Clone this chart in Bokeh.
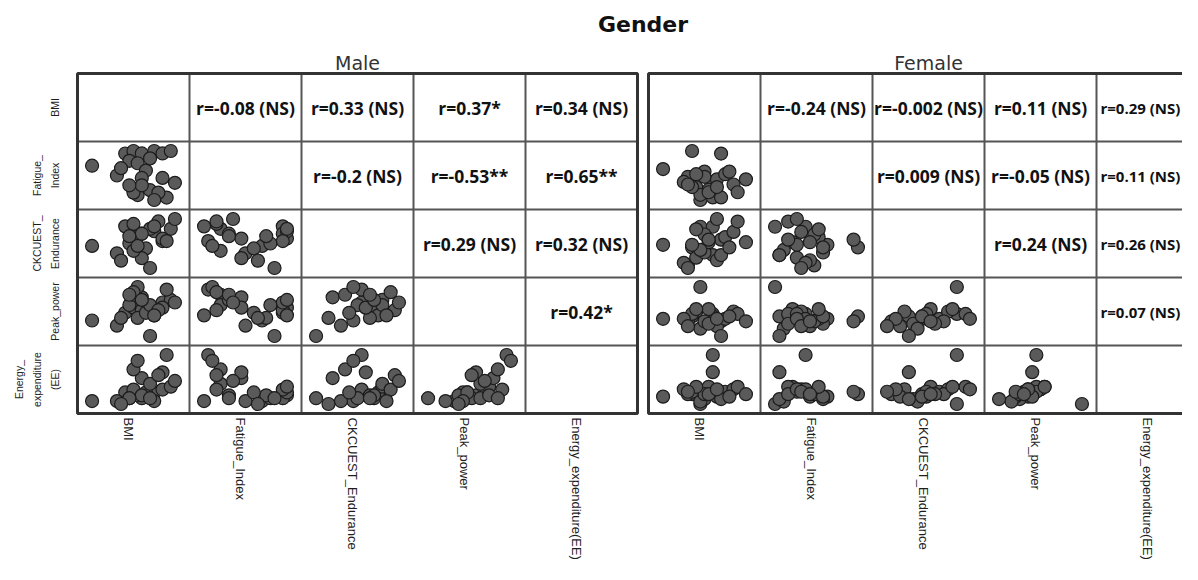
import numpy as np
from bokeh.plotting import figure
from bokeh.models import Range1d
from bokeh.core.properties import value
from bokeh.embed import file_html
from bokeh.resources import INLINE

# ---------------- data ----------------
title_text = "Gender"
genders = ["Male", "Female"]
variables = ["BMI", "Fatigue_Index", "CKCUEST_Endurance", "Peak_power", "Energy_expenditure(EE)"]
row_labels = ["BMI", "Fatigue_\nIndex", "CKCUEST_\nEndurance", "Peak_power", "Energy_\nexpenditure\n(EE)"]

# relative (within-cell) positions of each subject, 0 = low, 1 = high
male_bmi = [0.00, 0.40, 0.50, 0.60, 0.75, 0.85, 0.95, 0.45, 0.55, 0.30, 0.65, 0.60, 0.50,
            0.85, 0.90, 0.55, 0.70, 0.50, 0.60, 0.45, 0.80, 1.00, 0.75, 0.35, 0.70]
male_fat = [0.70, 0.95, 1.00, 0.95, 1.00, 0.95, 1.00, 0.80, 0.75, 0.50, 0.60, 0.45, 0.20,
            0.45, 0.05, 0.10, 0.20, 0.15, 0.30, 0.30, 0.15, 0.35, 0.00, 0.65, 0.85]
male_ck = [0.45, 0.85, 0.60, 0.70, 0.75, 0.55, 0.80, 0.50, 0.65, 0.30, 0.40, 0.20, 0.35,
           0.60, 0.55, 0.45, 0.80, 0.90, 0.70, 0.65, 0.95, 1.00, 0.85, 0.15, 0.00]
male_peak = [0.30, 0.45, 0.55, 0.50, 0.40, 0.65, 0.70, 0.60, 0.35, 0.20, 0.45, 0.75, 0.80,
             0.55, 0.90, 0.95, 0.60, 0.85, 0.70, 0.80, 0.50, 0.65, 0.40, 0.35, 0.00]
male_ee = [0.05, 0.20, 0.15, 0.10, 0.20, 0.25, 0.30, 0.10, 0.15, 0.05, 0.20, 0.45, 0.60,
           0.55, 0.85, 0.75, 0.35, 0.25, 0.15, 0.10, 0.50, 0.40, 0.05, 0.00, 0.10]

female_bmi = [0.00, 0.35, 0.70, 0.45, 0.60, 0.60, 0.30, 0.40, 0.50, 0.55, 0.65, 0.75, 0.85,
              0.90, 0.45, 0.50, 0.35, 0.25, 0.70, 0.80, 0.55, 0.40, 0.65, 0.30, 1.00]
female_fat = [0.65, 1.00, 0.95, 0.05, 0.40, 0.10, 0.50, 0.30, 0.60, 0.25, 0.45, 0.55, 0.35,
              0.20, 0.15, 0.50, 0.30, 0.40, 0.10, 0.60, 0.20, 0.55, 0.30, 0.35, 0.45]
female_ck = [0.50, 0.45, 0.60, 0.85, 0.85, 0.30, 0.10, 0.25, 0.35, 0.55, 0.20, 0.65, 0.75,
             0.95, 0.40, 0.70, 0.50, 0.15, 0.30, 0.45, 0.60, 0.80, 1.00, 0.05, 0.55]
female_peak = [0.35, 0.40, 0.30, 1.00, 0.45, 0.40, 0.30, 0.50, 0.25, 0.55, 0.20, 0.35, 0.50,
               0.45, 0.15, 0.30, 0.45, 0.35, 0.00, 0.40, 0.25, 0.55, 0.35, 0.20, 0.30]
female_ee = [0.15, 0.20, 0.25, 0.00, 1.00, 0.65, 0.20, 0.30, 0.10, 0.35, 0.15, 0.25, 0.30,
             0.35, 0.05, 0.20, 0.25, 0.30, 0.10, 0.15, 0.20, 0.35, 0.30, 0.25, 0.20]

# correlation labels of the upper triangle (row i, columns i+1..4)
male_r = [
    ["r=-0.08 (NS)", "r=0.33 (NS)", "r=0.37*", "r=0.34 (NS)"],
    ["r=-0.2 (NS)", "r=-0.53**", "r=0.65**"],
    ["r=0.29 (NS)", "r=0.32 (NS)"],
    ["r=0.42*"],
]
female_r = [
    ["r=-0.24 (NS)", "r=-0.002 (NS)", "r=0.11 (NS)", "r=0.29 (NS)"],
    ["r=0.009 (NS)", "r=-0.05 (NS)", "r=0.11 (NS)"],
    ["r=0.24 (NS)", "r=0.26 (NS)"],
    ["r=0.07 (NS)"],
]

# ---------------- layout ----------------
W, H = 1182, 564
CELL_W, CELL_H = 112.0, 68.0         # pixels per cell
ORG_X, ORG_Y = 77.0, 413.0           # pixel of male panel bottom-left
MARGIN = 0.0
N = len(variables)
PANEL_GAP = (648.0 - 77.0) / CELL_W  # female panel offset in cell units
PADX, PADY = 0.13, 0.14

x_start = (MARGIN - ORG_X) / CELL_W
x_end = (MARGIN + W - ORG_X) / CELL_W
y_top = (ORG_Y - MARGIN) / CELL_H
y_bot = (ORG_Y - MARGIN - H) / CELL_H

p = figure(width=W, height=H, output_backend="svg", toolbar_location=None,
           x_range=Range1d(x_start, x_end), y_range=Range1d(y_bot, y_top),
           x_axis_location=None, y_axis_location=None,
           min_border=0, min_border_left=0, min_border_right=0,
           min_border_top=0, min_border_bottom=0)
p.xgrid.visible = False
p.ygrid.visible = False
p.outline_line_color = None
p.background_fill_color = "white"
p.border_fill_color = "white"

NARROW = "Liberation Sans"

panels = [
    (0.0, [male_bmi, male_fat, male_ck, male_peak, male_ee], male_r),
    (PANEL_GAP, [female_bmi, female_fat, female_ck, female_peak, female_ee], female_r),
]

for gi, (off, series, rtab) in enumerate(panels):
    # inner grid lines
    vx = [off + k for k in range(1, N)]
    p.segment(x0=vx, y0=[0] * len(vx), x1=vx, y1=[N] * len(vx), line_color="#555555", line_width=2)
    hy = [k for k in range(1, N)]
    p.segment(x0=[off] * len(hy), y0=hy, x1=[off + N] * len(hy), y1=hy, line_color="#555555", line_width=2)
    # outer box
    p.quad(left=[off], right=[off + N], bottom=[0], top=[N], fill_color=None,
           line_color="#333333", line_width=3)

    # scatter cells (lower triangle)
    norm = []
    for s in series:
        a = np.asarray(s, dtype=float)
        norm.append((a - a.min()) / (a.max() - a.min()))
    xs, ys = [], []
    for i in range(N):
        for j in range(i):
            xs.extend(off + j + PADX + (1 - 2 * PADX) * norm[j])
            ys.extend((N - 1 - i) + PADY + (1 - 2 * PADY) * norm[i])
    p.scatter(x=xs, y=ys, marker="circle", size=13, fill_color="#5a5a5a",
              line_color="#1c1c1c", line_width=1.2)

    # correlation texts (upper triangle); the last female column sits at the page edge,
    # so those texts start at the cell's left side in a slightly smaller size
    tx, ty, tt = [], [], []
    ex, ey, et = [], [], []
    for i, row in enumerate(rtab):
        for k, txt in enumerate(row):
            j = i + 1 + k
            if gi == 1 and j == N - 1:
                ex.append(off + j + 0.035)
                ey.append(N - 1 - i + 0.5)
                et.append(txt)
            else:
                tx.append(off + j + 0.5)
                ty.append(N - 1 - i + 0.5)
                tt.append(txt)
    p.text(x=tx, y=ty, text=tt, text_align="center", text_baseline="middle",
           text_font=value("Open Sans"), text_font_style="bold", text_font_size="17.5px",
           text_color="#111111")
    if et:
        p.text(x=ex, y=ey, text=et, text_align="left", text_baseline="middle",
               text_font=value("Open Sans"), text_font_style="bold", text_font_size="15px",
               text_color="#111111")

    # column labels below
    p.text(x=[off + j + 0.5 - 0.045 for j in range(N)], y=[-0.06] * N, text=variables,
           angle=-np.pi / 2, text_align="left", text_baseline="middle",
           text_font=value(NARROW), text_font_size="13px", text_color="#1e1e1e")

    # panel header
    p.text(x=[off + N / 2], y=[(ORG_Y - 62) / CELL_H], text=[genders[gi]],
           text_align="center", text_baseline="middle",
           text_font=value("DejaVu Sans"), text_font_size="19px", text_color="#333333")

# row labels (left of male panel)
p.text(x=[(60 - ORG_X) / CELL_W] * N, y=[N - 1 - i + 0.5 for i in range(N)], text=row_labels,
       angle=np.pi / 2, text_align="center", text_baseline="bottom",
       text_font=value(NARROW), text_font_size="10.5px", text_line_height=1.5,
       text_color="#1e1e1e")

# main title
p.text(x=[(PANEL_GAP + N) / 2], y=[(ORG_Y - 24) / CELL_H], text=[title_text],
       text_align="center", text_baseline="middle",
       text_font=value("DejaVu Sans"), text_font_style="bold", text_font_size="22px",
       text_color="#111111")

open("out.html", "w").write(file_html(p, INLINE))
